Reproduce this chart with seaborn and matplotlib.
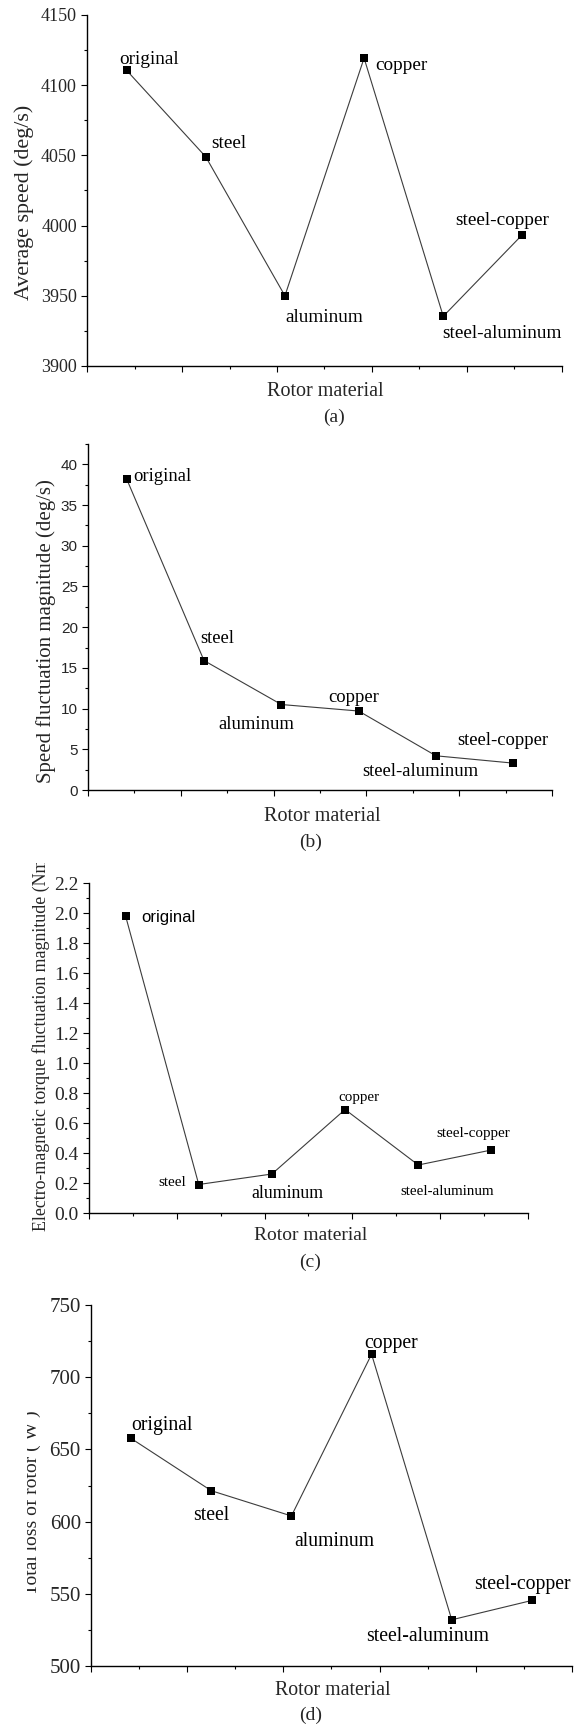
import numpy as np
import matplotlib
matplotlib.use("Agg")
import matplotlib.pyplot as plt
from matplotlib.ticker import MultipleLocator, FixedLocator, NullFormatter, FormatStrFormatter
from matplotlib.transforms import Bbox
import seaborn as sns

# data
materials = ["original", "steel", "aluminum", "copper", "steel-aluminum", "steel-copper"]
avg_speed = [4110.6, 4049.0, 3950.0, 4119.3, 3935.4, 3993.6]
speed_fluct = [38.2, 15.9, 10.5, 9.7, 4.2, 3.3]
torque_fluct = [1.98, 0.19, 0.26, 0.69, 0.32, 0.42]
rotor_loss = [657.6, 621.4, 603.9, 715.9, 532.0, 545.4]

W, H = 577, 1726
sns.set_style("ticks")
plt.rcParams["font.family"] = ["Liberation Serif", "DejaVu Serif"]
plt.rcParams["axes.linewidth"] = 1.0

SERIF = ["Liberation Serif", "DejaVu Serif"]
SANS = ["Liberation Sans", "DejaVu Sans"]

# panel layout in pixels: left, right, top, bottom
panels = [
    dict(values=avg_speed, box=(87, 562, 15, 366), ylim=(3900, 4150), major=50, minor=25,
         ylabel="Average speed (deg/s)", ylab_xy=(24, 202), ylab_fs=15.8, ylab_va="center",
         tick_fs=13, tick_fam=SERIF,
         offs=[(-7, -11), (6, -13), (0, 22), (11, 7), (-1, 17), (-67, -14)],
         ann_fam=[SERIF] * 6, ann_size=[13.9] * 6,
         xlab_y=392, xlab_x=325, tag="(a)", tag_xy=(334, 417), xlab_fs=14.5),
    dict(values=speed_fluct, box=(88, 552, 444, 790), ylim=(0, 42.5), major=5, minor=2.5,
         ylabel="Speed fluctuation magnitude (deg/s)", ylab_xy=(46, 631), ylab_fs=15,
         ylab_va="center", tick_fs=11, tick_fam=SANS,
         offs=[(7, -3), (-4, -22), (-63, 20), (-30, -14), (-74, 16), (-56, -23)],
         ann_fam=[SERIF] * 6, ann_size=[13.4] * 6,
         xlab_y=816, xlab_x=322, tag="(b)", tag_xy=(311, 842), xlab_fs=14.5),
    dict(values=torque_fluct, box=(89, 528, 883, 1213), ylim=(0, 2.2), major=0.2, minor=0.1,
         ylabel="Electro-magnetic torque fluctuation magnitude (Nm)", ylab_xy=(41, 1231),
         ylab_fs=12.9, ylab_va="bottom", ylab_clip=(0, 0, W, H - 863),
         tick_fs=14, tick_fam=SERIF,
         offs=[(16, 1), (-40, -2), (-21, 19), (-7, -12), (-18, 26), (-55, -17)],
         ann_fam=[SANS] + [SERIF] * 5, ann_size=[12, 10.9, 12.8, 10.8, 10.8, 10.9],
         xlab_y=1235, xlab_x=311, tag="(c)", tag_xy=(310, 1262), xlab_fs=14),
    dict(values=rotor_loss, box=(91, 572, 1305, 1666), ylim=(500, 750), major=50, minor=25,
         ylabel="Total loss of rotor ( W )", ylab_xy=(32, 1503), ylab_fs=14,
         ylab_va="center", ylab_clip=(26.5, 0, W, H),
         tick_fs=15, tick_fam=SERIF,
         offs=[(0, -13), (-18, 25), (3, 26), (-7, -11), (-86, 17), (-58, -16)],
         ann_fam=[SERIF] * 6, ann_size=[14.2] * 6,
         xlab_y=1690, xlab_x=333, tag="(d)", tag_xy=(311, 1715), xlab_fs=14.3),
]

fig = plt.figure(figsize=(W / 100, H / 100), dpi=100)
fig.patch.set_facecolor("white")
xpos = np.arange(len(materials))

for p in panels:
    l, r, t, b = p["box"]
    ax = fig.add_axes([l / W, 1 - b / H, (r - l) / W, (b - t) / H])
    sns.lineplot(x=xpos, y=p["values"], ax=ax, color="#3c3c3c", linewidth=0.8,
                 marker="s", markersize=5.5, markerfacecolor="black",
                 markeredgecolor="black", markeredgewidth=0)
    ax.set_xlim(-0.5, 5.5)
    ax.set_ylim(*p["ylim"])
    # six equal bins across the axis, one category centred in each
    ax.xaxis.set_major_locator(FixedLocator([-0.5 + 1.2 * k for k in range(6)]))
    ax.xaxis.set_minor_locator(FixedLocator([0.1 + 1.2 * k for k in range(5)]))
    ax.xaxis.set_major_formatter(NullFormatter())
    ax.yaxis.set_major_locator(MultipleLocator(p["major"]))
    ax.yaxis.set_minor_locator(MultipleLocator(p["minor"]))
    if p["major"] < 1:
        ax.yaxis.set_major_formatter(FormatStrFormatter("%.1f"))
    ax.tick_params(which="major", direction="out", length=4.3, width=0.8, pad=3,
                   labelsize=p["tick_fs"], color="black")
    ax.tick_params(which="minor", direction="out", length=2.4, width=0.8, color="black")
    for lab in ax.get_yticklabels():
        lab.set_family(p["tick_fam"])
    ax.set_xlabel("")
    ax.set_ylabel("")
    sns.despine(ax=ax)
    ax.set_facecolor("white")
    for s in ("left", "bottom"):
        ax.spines[s].set_color("black")

    for i, name in enumerate(materials):
        dx, dy = p["offs"][i]
        ax.annotate(name, (xpos[i], p["values"][i]), xytext=(dx * 0.72, -dy * 0.72),
                    textcoords="offset points", ha="left", va="center",
                    fontsize=p["ann_size"][i], family=p["ann_fam"][i], color="black")

    yl = fig.text(p["ylab_xy"][0] / W, 1 - p["ylab_xy"][1] / H, p["ylabel"],
                  rotation=90, ha="center", va=p["ylab_va"], fontsize=p["ylab_fs"])
    if "ylab_clip" in p:
        yl.set_clip_box(Bbox.from_extents(*p["ylab_clip"]))
        yl.set_clip_on(True)
    fig.text(p["xlab_x"] / W, 1 - p["xlab_y"] / H, "Rotor material",
             ha="center", va="center", fontsize=p["xlab_fs"])
    fig.text(p["tag_xy"][0] / W, 1 - p["tag_xy"][1] / H, p["tag"],
             ha="center", va="center", fontsize=14)

fig.savefig("out.png", dpi=100, facecolor="white")
